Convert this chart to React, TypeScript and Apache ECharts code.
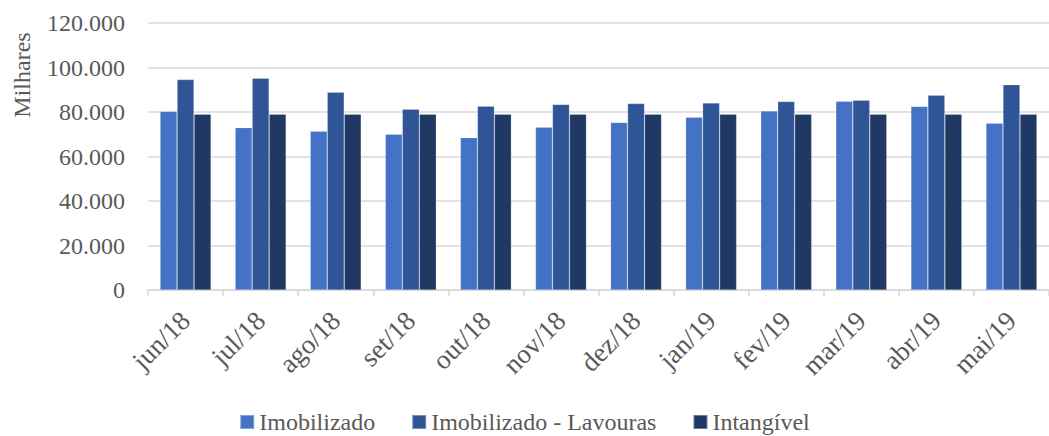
import React, { useEffect, useRef } from "react";
import * as echarts from "echarts";

const categories = ["jun/18", "jul/18", "ago/18", "set/18", "out/18", "nov/18", "dez/18", "jan/19", "fev/19", "mar/19", "abr/19", "mai/19"];
const imobilizado = [80300, 73000, 71400, 70000, 68500, 73200, 75300, 77700, 80500, 84800, 82500, 75000];
const lavouras = [94600, 95200, 88900, 81300, 82600, 83400, 83800, 84100, 84700, 85300, 87500, 92300];
const intangivel = [79000, 79000, 79000, 79000, 79000, 79000, 79000, 79000, 79000, 79000, 79000, 79000];
const yTicks = { min: 0, max: 120000, interval: 20000 };

const FONT = "Liberation Serif";
const GREY = "#595959";

function fmt(v: number): string {
  const s = Math.round(v).toString();
  return s.replace(/\B(?=(\d{3})+(?!\d))/g, ".");
}

export default function App() {
  const ref = useRef<HTMLDivElement>(null);
  useEffect(() => {
    if (!ref.current) return;
    const chart = echarts.init(ref.current, null, { renderer: "svg" });
    const bar = (name: string, data: number[], color: string) => ({
      name,
      type: "bar",
      data,
      barWidth: 17,
      barGap: "0%",
      itemStyle: { color, borderColor: "rgba(255,255,255,0.35)", borderWidth: 0.6 },
    });
    chart.setOption({
      animation: false,
      textStyle: { fontFamily: FONT },
      grid: { left: 148, right: -7, top: 23, bottom: 146, containLabel: false },
      legend: {
        top: 409,
        left: "center",
        padding: 0,
        itemWidth: 14,
        itemHeight: 14,
        itemGap: 36,
        icon: "rect",
        textStyle: { fontFamily: FONT, fontSize: 24, lineHeight: 26, color: GREY },
        data: ["Imobilizado", "Imobilizado - Lavouras", "Intangível"],
      },
      xAxis: {
        type: "category",
        data: categories,
        boundaryGap: true,
        axisLine: { lineStyle: { color: "#d9d9d9", width: 1.5 } },
        axisTick: { show: true, length: 6, lineStyle: { color: "#d9d9d9", width: 1.5 } },
        axisLabel: { rotate: 45, fontSize: 27, color: GREY, fontFamily: FONT, margin: 26, interval: 0 },
      },
      yAxis: {
        type: "value",
        min: yTicks.min,
        max: yTicks.max,
        interval: yTicks.interval,
        axisLine: { show: false },
        axisTick: { show: false },
        splitLine: { lineStyle: { color: "#d9d9d9", width: 1.5 } },
        axisLabel: { fontSize: 24, color: GREY, fontFamily: FONT, margin: 23, formatter: (v: number) => fmt(v) },
      },
      graphic: [
        {
          type: "text",
          x: 22,
          y: 75,
          rotation: Math.PI / 2,
          style: { text: "Milhares", fontSize: 24, fill: GREY, fontFamily: FONT, align: "center", verticalAlign: "middle" },
        },
      ],
      series: [
        bar("Imobilizado", imobilizado, "#4472C4"),
        bar("Imobilizado - Lavouras", lavouras, "#2F5597"),
        bar("Intangível", intangivel, "#203864"),
      ],
    });
    return () => chart.dispose();
  }, []);
  return <div ref={ref} style={{ width: 1049, height: 436, position: "absolute", left: 0, top: 0 }} />;
}
